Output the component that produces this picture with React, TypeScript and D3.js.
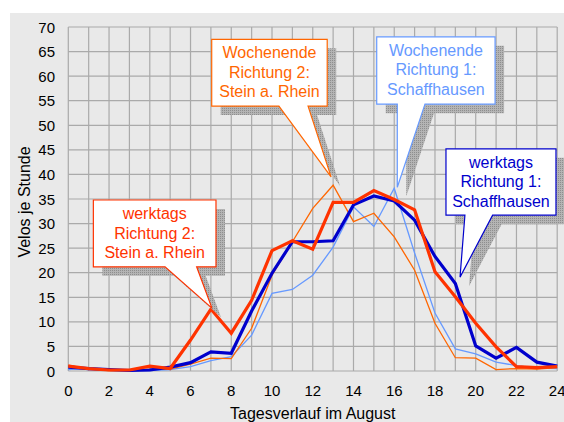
import React from "react";
import * as d3 from "d3";

const hours = d3.range(0, 25);
const xTicks = d3.range(0, 25, 2);
const yTicks = d3.range(0, 71, 5);

const werktagsR1 = [0.8, 0.5, 0.3, 0.1, 0.2, 0.8, 1.7, 3.9, 3.6, 12.2, 19.9, 26.3, 26.3, 26.5, 33.8, 35.6, 34.6, 30.7, 23.3, 17.8, 5.1, 2.6, 4.8, 1.8, 1.0];
const werktagsR2 = [1.0, 0.5, 0.2, 0.2, 1.0, 0.5, 6.3, 12.6, 7.7, 14.4, 24.5, 26.5, 24.8, 34.3, 34.3, 36.7, 34.9, 32.8, 20.2, 15.1, 9.7, 4.9, 0.9, 0.7, 0.9];
const wochenendeR2 = [1.2, 0.4, 0.1, 0.1, 0.4, 0.4, 1.4, 2.6, 2.5, 8.7, 19.5, 26.3, 33.1, 37.8, 30.4, 32.1, 27.3, 20.5, 9.7, 2.7, 2.6, 0.3, 0.5, 0.4, 0.7];
const wochenendeR1 = [0.3, 0.6, 0.4, 0.2, 0.1, 0.3, 0.9, 2.1, 2.9, 7.3, 15.8, 16.6, 19.5, 25.2, 33.4, 29.4, 37.2, 24.0, 11.8, 4.5, 3.5, 1.8, 1.1, 0.6, 0.5];

const seriesNames = ["Wochenende R1", "Wochenende R2", "werktags R1", "werktags R2"];
const seriesValues = [wochenendeR1, wochenendeR2, werktagsR1, werktagsR2];
const seriesColors = ["#6699ff", "#ff6600", "#0000cc", "#ff3300"];
const seriesWidths = [1.3, 1.3, 3.2, 3.2];

// callouts: box in data units [h0,h1,v0(top),v1(bottom)], pointer base [h,h], tip [h,v]
const calloutLines = [
  ["Wochenende", "Richtung 2:", "Stein a. Rhein"],
  ["Wochenende", "Richtung 1:", "Schaffhausen"],
  ["werktags", "Richtung 2:", "Stein a. Rhein"],
  ["werktags", "Richtung 1:", "Schaffhausen"],
];
const calloutColors = ["#ff6600", "#6699ff", "#ff3300", "#0000cc"];
const calloutBoxes = [
  [7.04, 12.71, 67.5, 53.9],
  [15.14, 20.95, 68.0, 54.3],
  [1.23, 7.25, 34.8, 21.2],
  [18.54, 23.94, 45.2, 31.7],
];
const calloutBases = [
  [10.34, 11.77],
  [16.15, 17.51],
  [4.75, 6.3],
  [19.47, 20.83],
];
const calloutTips = [
  [12.9, 39.5],
  [16.15, 37.4],
  [7.05, 12.8],
  [19.23, 19.1],
];

const FONT = "'Liberation Sans', Arial, sans-serif";

export default function App() {
  const x = d3.scaleLinear().domain([0, 24]).range([68.3, 557.2]);
  const y = d3.scaleLinear().domain([0, 70]).range([371, 27]);
  const line = d3
    .line<number>()
    .x((_, i) => x(hours[i]))
    .y((d) => y(d));

  const calloutPath = (i: number, dx = 0, dy = 0) => {
    const [h0, h1, vt, vb] = calloutBoxes[i];
    const [b0, b1] = calloutBases[i];
    const [th, tv] = calloutTips[i];
    const L = x(h0) + dx, R = x(h1) + dx, T = y(vt) + dy, B = y(vb) + dy;
    return `M${L},${T}H${R}V${B}H${x(b1) + dx}L${x(th) + dx},${y(tv) + dy}L${x(b0) + dx},${B}H${L}Z`;
  };

  return (
    <svg
      width={564}
      height={422}
      style={{ position: "absolute", left: 0, top: 0, fontFamily: FONT }}
    >
      <defs>
        <pattern id="stip" width={2} height={2} patternUnits="userSpaceOnUse">
          <rect width={2} height={2} fill="#b4b4b4" />
          <rect width={1} height={1} fill="#8e8e8e" />
        </pattern>
      </defs>
      <rect x={0} y={0} width={564} height={422} fill="#ffffff" />
      <rect x={10} y={13} width={554} height={409} fill="#e9e9e9" />
      {/* grid */}
      {yTicks.map((t) => (
        <line key={"gy" + t} x1={x(0)} x2={x(24)} y1={y(t)} y2={y(t)} stroke="#aaaaaa" strokeWidth={1.2} />
      ))}
      {hours.map((h) => (
        <line key={"gx" + h} x1={x(h)} x2={x(h)} y1={y(0)} y2={y(70)} stroke="#aaaaaa" strokeWidth={1.2} />
      ))}
      {/* y tick labels */}
      {yTicks.map((t) => (
        <text key={"ty" + t} x={55} y={y(t)} textAnchor="end" dominantBaseline="central" fontSize={15} fill="#000">
          {t}
        </text>
      ))}
      {xTicks.map((t) => (
        <text key={"tx" + t} x={x(t)} y={390.5} textAnchor="middle" dominantBaseline="central" fontSize={15} fill="#000">
          {t}
        </text>
      ))}
      <text x={(x(0) + x(24)) / 2} y={413} textAnchor="middle" dominantBaseline="central" fontSize={16} fill="#000">
        Tagesverlauf im August
      </text>
      <text
        transform={`translate(24,${(y(0) + y(70)) / 2 + 3}) rotate(-90)`}
        textAnchor="middle"
        dominantBaseline="central"
        fontSize={16}
        fill="#000"
      >
        Velos je Stunde
      </text>
      {/* series */}
      {seriesValues.map((vals, i) => (
        <path
          key={seriesNames[i]}
          d={line(vals) || ""}
          fill="none"
          stroke={seriesColors[i]}
          strokeWidth={seriesWidths[i]}
          strokeLinejoin="miter"
        />
      ))}
      {/* callouts */}
      {calloutBoxes.map((_, i) => (
        <path key={"sh" + i} d={calloutPath(i, 9, 9)} fill="url(#stip)" />
      ))}
      {calloutBoxes.map((b, i) => {
        const cx = (x(b[0]) + x(b[1])) / 2;
        const top = y(b[2]);
        return (
          <g key={"co" + i}>
            <path d={calloutPath(i)} fill="#ffffff" stroke={calloutColors[i]} strokeWidth={1.2} />
            {calloutLines[i].map((t, j) => (
              <text
                key={j}
                x={cx}
                y={top + 13.5 + j * 19.6}
                textAnchor="middle"
                dominantBaseline="central"
                fontSize={16}
                fill={calloutColors[i]}
              >
                {t}
              </text>
            ))}
          </g>
        );
      })}
    </svg>
  );
}
